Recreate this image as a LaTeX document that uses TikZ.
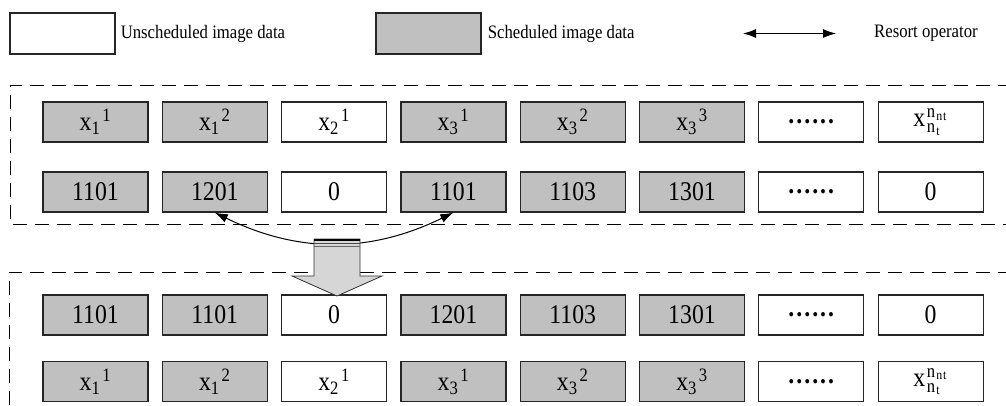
\documentclass[tikz,border=0pt]{standalone}
\usepackage{fontspec}
\setmainfont[FakeStretch=0.88]{Liberation Serif}
\usetikzlibrary{arrows.meta, positioning}

\definecolor{schedgray}{HTML}{C0C0C0}
\definecolor{arrowgray}{HTML}{D6D6D6}

\newcommand{\xlab}[2]{x\textsubscript{#1}\kern2pt\textsuperscript{#2}}
\newcommand{\xlast}{$\mathrm{x}^{\mathrm{n}_{\mathrm{nt}}}_{\mathrm{n}_{\mathrm{t}}}$}
\newcommand{\etc}{\textbf{.\kern2pt.\kern2pt.\kern2pt.\kern2pt.\kern2pt.}}

\tikzset{
  cell/.style={draw=black!85, line width=1.2pt, minimum width=105pt, minimum height=40pt, inner sep=0pt, font=\fontsize{27}{30}\selectfont},
  free/.style={cell, fill=white},
  sched/.style={cell, fill=schedgray},
  keytext/.style={inner sep=0pt, font=\fontsize{19}{22}\selectfont},
  frame/.style={dashed, dash pattern=on 14pt off 8pt, line width=1pt},
  swap/.style={{Latex[length=13pt,width=9pt]}-{Latex[length=13pt,width=9pt]}, line width=1pt}
}

\begin{document}
\begin{tikzpicture}[x=1pt, y=-1pt]
    \useasboundingbox (0,0) rectangle (1006,405);
    \clip (0,0) rectangle (1006,405);

    % Legend
    \node[free, minimum height=41pt] (keyfree) at (62.5,33.5) {};
    \node[keytext, right=5pt of keyfree] (keyfreetxt) {Unscheduled image data};
    \node[sched, minimum height=41pt] (keysched) at (428.5,33.5) {};
    \node[keytext, right=6pt of keysched] (keyschedtxt) {Scheduled image data};
    \coordinate (resl) at (743,33.5);
    \coordinate (resr) at (836,33.5);
    \draw[swap] (resl) -- (resr);
    \node[keytext, right=38pt of resr] (restxt) {Resort operator};

    % Dashed frames (before and after resorting)
    \draw[frame] (1012,85) -- (10,85) -- (10,224) -- (1012,224);
    \draw[frame] (1012,272) -- (9,272) -- (9,412);

    % Cells: a,b = before, c,d = after
    \foreach \i/\sty/\xl/\old/\new in {
        1/sched/{\xlab{1}{1}}/1101/1101,
        2/sched/{\xlab{1}{2}}/1201/1101,
        3/free/{\xlab{2}{1}}/0/0,
        4/sched/{\xlab{3}{1}}/1101/1201,
        5/sched/{\xlab{3}{2}}/1103/1103,
        6/sched/{\xlab{3}{3}}/1301/1301,
        7/free/{\etc}/{\etc}/{\etc},
        8/free/{\xlast}/0/0}
    {
        \node[\sty] (a\i) at ({95.5+(\i-1)*119.3},122) {\xl};
        \node[\sty] (b\i) at ({95.5+(\i-1)*119.3},192) {\old};
        \node[\sty] (c\i) at ({95.5+(\i-1)*119.3},315) {\new};
        \node[\sty] (d\i) at ({95.5+(\i-1)*119.3},381.5) {\xl};
    }

    % Resort operator between 1201 and 1101
    \draw[swap] (b2.south) to[bend right=26] (b4.south);

    % Block arrow
    \filldraw[fill=arrowgray, draw=black!80, line width=0.8pt]
        (314,239) -- (360,239) -- (360,276) -- (382,276) -- (337,296)
        -- (292,276) -- (314,276) -- cycle;
    \draw[line width=2pt] (314,240) -- (360,240);
    \draw[line width=0.6pt, black!70] (314,243.5) -- (360,243.5);
    \draw[line width=0.6pt, black!60] (314,246) -- (360,246);
\end{tikzpicture}
\end{document}
